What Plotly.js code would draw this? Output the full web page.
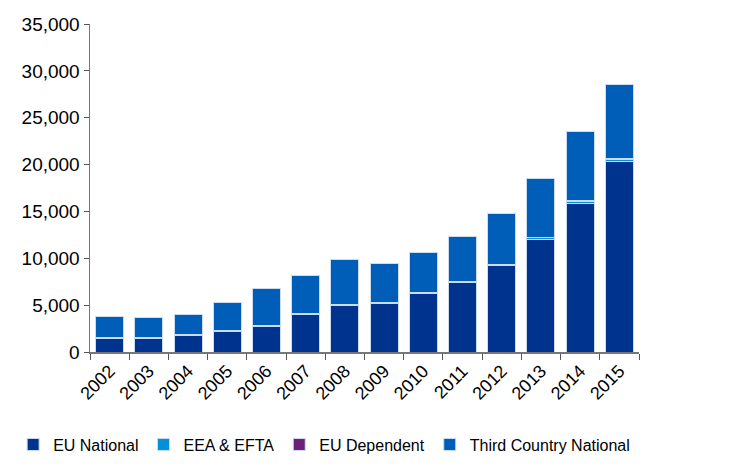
<!DOCTYPE html>
<html>
<head>
<meta charset="utf-8">
<script src="https://cdn.plot.ly/plotly-3.0.1.min.js"></script>
<style>html,body{margin:0;padding:0;background:#fff;}#chart{width:743px;height:472px;}</style>
</head>
<body>
<div id="chart"></div>
<script>
const years = ["2002","2003","2004","2005","2006","2007","2008","2009","2010","2011","2012","2013","2014","2015"];
const euNational = [1490,1450,1770,2190,2770,4040,4960,5140,6240,7400,9210,12020,15850,20280];
const eeaEfta = [60,60,60,70,80,80,90,90,100,100,120,150,180,250];
const euDependent = [10,10,10,10,10,10,10,10,10,20,20,50,100,150];
const thirdCountry = [2230,2160,2200,2980,3910,3990,4840,4230,4290,4780,5400,6330,7380,7870];
const yTicks = [0,5000,10000,15000,20000,25000,30000,35000];

const outline = {color:'#c9dcf2', width:1};
function tr(name, y, color){
  return {type:'bar', name:name, x:years, y:y, marker:{color:color, line:outline}, hoverinfo:'x+y+name'};
}
const data = [
  tr('EU National', euNational, '#00338D'),
  tr('EEA & EFTA', eeaEfta, '#0091DA'),
  tr('EU Dependent', euDependent, '#6D2077'),
  tr('Third Country National', thirdCountry, '#005EB8')
];
const font = {family:'"Liberation Sans", Arial, sans-serif', color:'#000'};
const layout = {
  width:743, height:472,
  margin:{l:90, r:104, t:24, b:119},
  barmode:'stack', bargap:0.286,
  paper_bgcolor:'#fff', plot_bgcolor:'#fff',
  font:Object.assign({size:16}, font),
  xaxis:{type:'category', tickangle:-45, tickson:'boundaries', ticks:'outside', ticklen:6, tickcolor:'#555',
         showline:true, linecolor:'#777', linewidth:1.5, showgrid:false, automargin:false,
         tickfont:Object.assign({size:18}, font)},
  yaxis:{range:[0,35000], tickvals:yTicks, tickformat:',d', ticks:'outside', ticklen:5, tickcolor:'#555',
         showline:true, linecolor:'#777', linewidth:1.5, showgrid:false, zeroline:false, automargin:false,
         tickfont:Object.assign({size:19}, font)},
  legend:{orientation:'h', x:-0.14, xanchor:'left', y:-0.33, yanchor:'bottom',
          traceorder:'normal', font:Object.assign({size:16}, font), itemwidth:30},
  showlegend:true
};
Plotly.newPlot('chart', data, layout, {displayModeBar:false, staticPlot:true});
</script>
</body>
</html>
